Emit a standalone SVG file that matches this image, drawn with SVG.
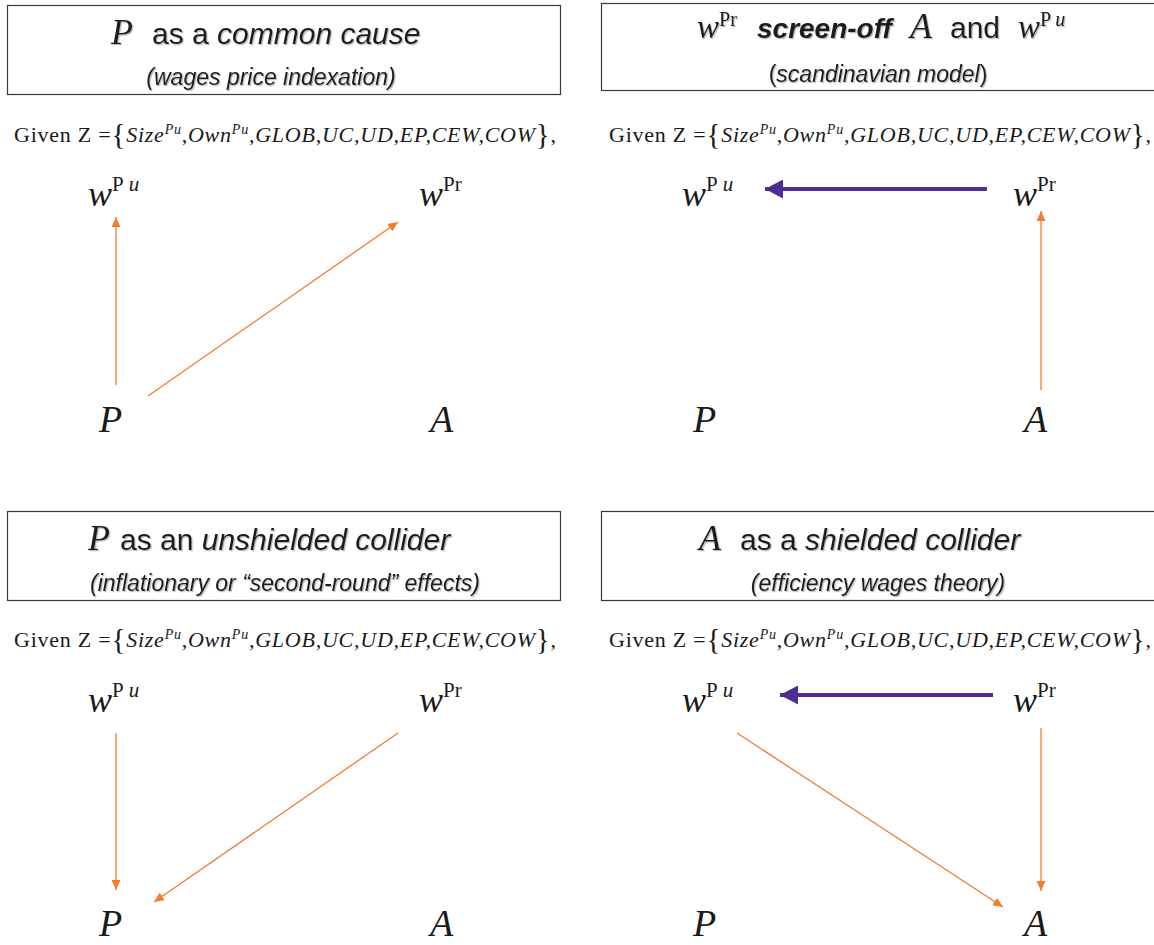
<svg xmlns="http://www.w3.org/2000/svg" width="1154" height="945" viewBox="0 0 1154 945">
<style>
.box{fill:#fff;stroke:#3a3a3a;stroke-width:1.2}
.sans{font-family:"Liberation Sans",Arial,sans-serif;fill:#1a1a1a}
.t{font-size:30px}
.st{font-size:23px;font-style:italic}
.m{font-family:"Liberation Serif","Times New Roman",serif;fill:#1a1a1a}
.mi{font-style:italic}
.node{font-size:38px;font-style:italic}
.w{font-size:36px}
.sup{font-size:21px}
.given{font-family:"Liberation Serif","Times New Roman",serif;font-size:22px;fill:#1a1a1a}
.gi{font-style:italic}
.gs{font-size:14px;font-style:italic}
.gb{font-size:29px}
.or{stroke:#f47b30;stroke-width:1.3;fill:none}
.pu{stroke:#4f2b94;stroke-width:4;fill:none}
.shadow{filter:url(#sh)}
</style>
<defs>
<filter id="sh" x="-5%" y="-20%" width="110%" height="140%">
<feDropShadow dx="1.2" dy="1.2" stdDeviation="0.6" flood-color="#888" flood-opacity="0.6"/>
</filter>
<marker id="ao" markerUnits="userSpaceOnUse" markerWidth="10" markerHeight="9" refX="10" refY="4.5" orient="auto">
<path d="M0,0 L10,4.5 L0,9 z" fill="#f47b30"/>
</marker>
<marker id="ap" markerUnits="userSpaceOnUse" markerWidth="19" markerHeight="19" refX="18" refY="9.5" orient="auto">
<path d="M0,0 L18,9.5 L0,19 z" fill="#4f2b94"/>
</marker>
</defs>

<!-- Panel titles -->
<g id="title-tl">
<rect class="box" x="7.5" y="5.5" width="553" height="89"/>
<g class="shadow">
<text class="m mi" x="111" y="44" font-size="36">P</text>
<text class="sans t" x="152" y="44">as a <tspan font-style="italic">common cause</tspan></text>
<text class="sans st" x="271" y="85" text-anchor="middle">(wages price indexation)</text>
</g>
</g>
<g id="title-tr">
<rect class="box" x="601.5" y="3.5" width="560" height="87"/>
<g class="shadow">
<text class="m" x="697" y="38"><tspan class="mi" font-size="33">w</tspan><tspan font-size="20" dy="-12">Pr</tspan></text>
<text class="sans" x="757" y="38" font-size="28" font-weight="bold" font-style="italic">screen-off</text>
<text class="m mi" x="910" y="38" font-size="36">A</text>
<text class="sans t" x="950" y="38">and</text>
<text class="m" x="1018" y="38"><tspan class="mi" font-size="33">w</tspan><tspan font-size="20" dy="-12">P</tspan><tspan class="mi" font-size="20" dx="4">u</tspan></text>
<text class="sans" x="878" y="82" text-anchor="middle" font-size="23">(<tspan font-style="italic">scandinavian model</tspan>)</text>
</g>
</g>
<g id="title-bl">
<rect class="box" x="7.5" y="511.5" width="553" height="89"/>
<g class="shadow">
<text class="m mi" x="88" y="550" font-size="36">P</text>
<text class="sans t" x="120" y="550">as an <tspan font-style="italic">unshielded collider</tspan></text>
<text class="sans st" x="285" y="591" text-anchor="middle">(inflationary or “second-round” effects)</text>
</g>
</g>
<g id="title-br">
<rect class="box" x="601.5" y="511.5" width="560" height="89"/>
<g class="shadow">
<text class="m mi" x="699" y="550" font-size="36">A</text>
<text class="sans t" x="740" y="550">as a <tspan font-style="italic">shielded collider</tspan></text>
<text class="sans st" x="878" y="591" text-anchor="middle">(efficiency wages theory)</text>
</g>
</g>

<!-- Given lines -->
<g id="given-tl"><text class="given" x="14" y="142" textLength="542">Given Z =<tspan class="gb" dy="2">{</tspan><tspan class="gi" dy="-2">Size</tspan><tspan class="gs" dy="-8">Pu</tspan><tspan dy="8">,</tspan><tspan class="gi">Own</tspan><tspan class="gs" dy="-8">Pu</tspan><tspan class="gi" dy="8">,GLOB,UC,UD,EP,CEW,COW</tspan><tspan class="gb" dy="2">}</tspan><tspan dy="-2">,</tspan></text></g>
<g id="given-tr"><text class="given" x="609" y="142" textLength="542">Given Z =<tspan class="gb" dy="2">{</tspan><tspan class="gi" dy="-2">Size</tspan><tspan class="gs" dy="-8">Pu</tspan><tspan dy="8">,</tspan><tspan class="gi">Own</tspan><tspan class="gs" dy="-8">Pu</tspan><tspan class="gi" dy="8">,GLOB,UC,UD,EP,CEW,COW</tspan><tspan class="gb" dy="2">}</tspan><tspan dy="-2">,</tspan></text></g>
<g id="given-bl"><text class="given" x="14" y="647" textLength="542">Given Z =<tspan class="gb" dy="2">{</tspan><tspan class="gi" dy="-2">Size</tspan><tspan class="gs" dy="-8">Pu</tspan><tspan dy="8">,</tspan><tspan class="gi">Own</tspan><tspan class="gs" dy="-8">Pu</tspan><tspan class="gi" dy="8">,GLOB,UC,UD,EP,CEW,COW</tspan><tspan class="gb" dy="2">}</tspan><tspan dy="-2">,</tspan></text></g>
<g id="given-br"><text class="given" x="609" y="647" textLength="542">Given Z =<tspan class="gb" dy="2">{</tspan><tspan class="gi" dy="-2">Size</tspan><tspan class="gs" dy="-8">Pu</tspan><tspan dy="8">,</tspan><tspan class="gi">Own</tspan><tspan class="gs" dy="-8">Pu</tspan><tspan class="gi" dy="8">,GLOB,UC,UD,EP,CEW,COW</tspan><tspan class="gb" dy="2">}</tspan><tspan dy="-2">,</tspan></text></g>

<!-- Nodes -->
<g id="tl-wpu"><text class="m" x="88" y="206"><tspan class="mi w">w</tspan><tspan class="sup" dy="-15">P</tspan><tspan class="mi sup" dx="5">u</tspan></text></g>
<g id="tl-wpr"><text class="m" x="419" y="206"><tspan class="mi w">w</tspan><tspan class="sup" dy="-15">Pr</tspan></text></g>
<g id="tl-p"><text class="m node" x="99" y="432">P</text></g>
<g id="tl-a"><text class="m node" x="430" y="432">A</text></g>

<g id="tr-wpu"><text class="m" x="682" y="206"><tspan class="mi w">w</tspan><tspan class="sup" dy="-15">P</tspan><tspan class="mi sup" dx="5">u</tspan></text></g>
<g id="tr-wpr"><text class="m" x="1013" y="206"><tspan class="mi w">w</tspan><tspan class="sup" dy="-15">Pr</tspan></text></g>
<g id="tr-p"><text class="m node" x="693" y="432">P</text></g>
<g id="tr-a"><text class="m node" x="1024" y="432">A</text></g>

<g id="bl-wpu"><text class="m" x="88" y="712"><tspan class="mi w">w</tspan><tspan class="sup" dy="-15">P</tspan><tspan class="mi sup" dx="5">u</tspan></text></g>
<g id="bl-wpr"><text class="m" x="419" y="712"><tspan class="mi w">w</tspan><tspan class="sup" dy="-15">Pr</tspan></text></g>
<g id="bl-p"><text class="m node" x="99" y="936">P</text></g>
<g id="bl-a"><text class="m node" x="430" y="936">A</text></g>

<g id="br-wpu"><text class="m" x="682" y="712"><tspan class="mi w">w</tspan><tspan class="sup" dy="-15">P</tspan><tspan class="mi sup" dx="5">u</tspan></text></g>
<g id="br-wpr"><text class="m" x="1013" y="712"><tspan class="mi w">w</tspan><tspan class="sup" dy="-15">Pr</tspan></text></g>
<g id="br-p"><text class="m node" x="693" y="936">P</text></g>
<g id="br-a"><text class="m node" x="1024" y="936">A</text></g>

<!-- Connectors -->
<g id="connectors">
<line class="or" x1="116" y1="385" x2="116" y2="217" marker-end="url(#ao)"/>
<line class="or" x1="148" y1="396" x2="398" y2="222" marker-end="url(#ao)"/>
<line class="pu" x1="987" y1="189" x2="765" y2="189" marker-end="url(#ap)"/>
<line class="or" x1="1041" y1="390" x2="1041" y2="211" marker-end="url(#ao)"/>
<line class="or" x1="116" y1="733" x2="116" y2="890" marker-end="url(#ao)"/>
<line class="or" x1="398" y1="733" x2="154" y2="902" marker-end="url(#ao)"/>
<line class="pu" x1="993" y1="695" x2="780" y2="695" marker-end="url(#ap)"/>
<line class="or" x1="737" y1="733" x2="1003" y2="907" marker-end="url(#ao)"/>
<line class="or" x1="1041" y1="728" x2="1041" y2="891" marker-end="url(#ao)"/>
</g>
</svg>
